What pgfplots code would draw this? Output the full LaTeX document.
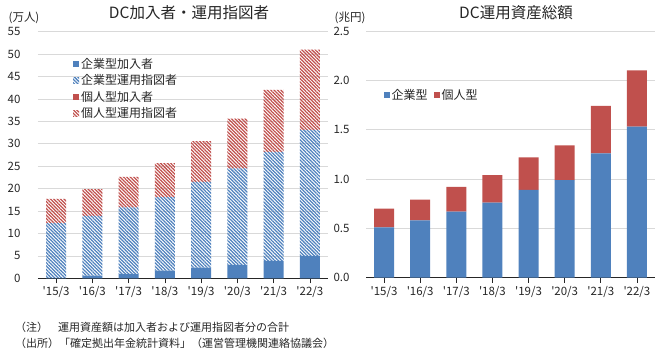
\documentclass[border=0pt]{standalone}
\usepackage{pgfplots}
\pgfplotsset{compat=1.18}
\usepackage{fontspec}
\newfontfamily\jp{Noto Sans CJK JP}
\usetikzlibrary{patterns.meta}
\definecolor{cblue}{HTML}{4F81BD}
\definecolor{cred}{HTML}{C0504D}
\definecolor{cgrid}{HTML}{D9D9D9}
\definecolor{ctext}{HTML}{262626}

\pgfplotsset{
  mybase/.style={
    scale only axis,
    ybar stacked,
    bar width=20pt,
    xmin=-0.5, xmax=7.5,
    xtick={0,...,7},
    xticklabels={'15/3,'16/3,'17/3,'18/3,'19/3,'20/3,'21/3,'22/3},
    ymin=0,
    axis x line=bottom, axis y line=left,
    x axis line style={-, color=ctext, line width=0.7pt},
    y axis line style={draw=none},
    ytick style={draw=none},
    xtick style={color=ctext, line width=0.7pt},
    tick align=outside,
    major tick length=5pt,
    ymajorgrids, grid style={cgrid, line width=0.7pt},
    /pgf/number format/assume math mode=true,
    tick label style={font=\fontsize{11.5}{12}\selectfont\jp, color=ctext},
    legend style={draw=none, fill=none, font=\fontsize{12}{13}\selectfont\jp, text=ctext, legend cell align=left},
    legend image code/.code={\path[##1, draw=none] (0pt,-3pt) rectangle (6pt,3pt);},
  }
}

\begin{document}
\jp
\begin{tikzpicture}
\path[use as bounding box] (0,0) rectangle (667pt,359pt);

% Left chart
\begin{axis}[mybase,
  at={(38pt,80.7pt)}, anchor=south west,
  width=290pt, height=246.6pt,
  ymax=55, ytick={0,5,...,55},
  yticklabel style={xshift=-9pt},
  legend style={at={(0.11,0.91)}, anchor=north west, row sep=1pt},
]
\addplot+[fill=cblue, draw=none] coordinates {(0,0.1) (1,0.6) (2,1.0) (3,1.7) (4,2.4) (5,3.0) (6,3.9) (7,5.0)};
\addplot+[draw=none, fill=white, pattern={Lines[angle=-45,distance=2.4pt,line width=1.25pt]}, pattern color=cblue] coordinates {(0,12.2) (1,13.3) (2,14.8) (3,16.4) (4,19.1) (5,21.5) (6,24.3) (7,28.1)};
\addplot+[fill=cred, draw=none] coordinates {(0,0) (1,0) (2,0) (3,0) (4,0) (5,0) (6,0) (7,0)};
\addplot+[draw=none, fill=white, pattern={Lines[angle=-45,distance=2.4pt,line width=1.25pt]}, pattern color=cred] coordinates {(0,5.4) (1,6.0) (2,6.8) (3,7.6) (4,9.1) (5,11.1) (6,13.8) (7,17.9)};
\legend{企業型加入者,企業型運用指図者,個人型加入者,個人型運用指図者}
\end{axis}

% Right chart
\begin{axis}[mybase,
  at={(366pt,81.3pt)}, anchor=south west,
  width=289pt, height=246.7pt,
  ymax=2.5, ytick={0,0.5,...,2.5},
  yticklabel style={xshift=-8pt, /pgf/number format/.cd, fixed, fixed zerofill, precision=1},
  legend style={at={(0.05,0.78)}, anchor=north west, legend columns=2, /tikz/every even column/.append style={column sep=4pt}},
]
\addplot+[fill=cblue, draw=none] coordinates {(0,0.51) (1,0.58) (2,0.67) (3,0.76) (4,0.89) (5,0.99) (6,1.26) (7,1.53)};
\addplot+[fill=cred, draw=none] coordinates {(0,0.19) (1,0.21) (2,0.25) (3,0.28) (4,0.33) (5,0.35) (6,0.48) (7,0.57)};
\legend{企業型,個人型}
\end{axis}

% Titles and units
\node[font=\fontsize{15.5}{17}\selectfont\jp, text=ctext] at (189pt,346.5pt) {DC加入者・運用指図者};
\node[font=\fontsize{15.5}{17}\selectfont\jp, text=ctext] at (516pt,346.5pt) {DC運用資産総額};
\node[font=\fontsize{11.5}{12}\selectfont\jp, text=ctext] at (24pt,341.5pt) {(万人)};
\node[font=\fontsize{11.5}{12}\selectfont\jp, text=ctext] at (350pt,341.5pt) {(兆円)};

% Footnotes
\node[font=\fontsize{11}{12}\selectfont\jp, text=ctext, anchor=west, inner sep=0pt] at (15pt,32pt) {（注）};
\node[font=\fontsize{11}{12}\selectfont\jp, text=ctext, anchor=west, inner sep=0pt] at (58pt,32pt) {運用資産額は加入者および運用指図者分の合計};
\node[font=\fontsize{11}{12}\selectfont\jp, text=ctext, anchor=west, inner sep=0pt] at (15pt,15.5pt) {（出所）「確定拠出年金統計資料」（運営管理機関連絡協議会）};
\end{tikzpicture}
\end{document}
